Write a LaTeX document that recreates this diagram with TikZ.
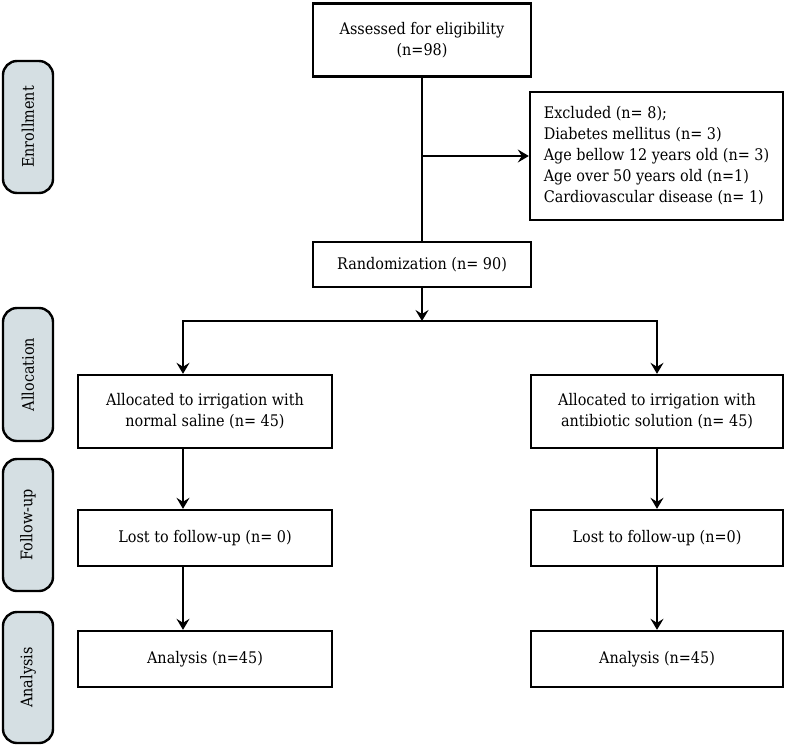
\documentclass[tikz,border=0pt]{standalone}
\usepackage{fontspec}
\setmainfont{DejaVu Serif Condensed}
\usepackage{tikz}
\usetikzlibrary{positioning,arrows.meta,shapes.geometric,shapes.misc,calc}
\definecolor{stagefill}{HTML}{D5DFE3}

\begin{document}
\begin{tikzpicture}[
    x=1pt, y=-1pt,
    font=\fontsize{16}{21}\selectfont,
    box/.style={rectangle, draw, line width=2.4pt, text centered, inner sep=4pt},
    stage/.style={
        rectangle, rounded corners=14pt,% Rounded side label
        draw, line width=2.4pt, fill=stagefill,
        rotate=90, minimum height=50pt, text centered
    },
    arrow/.style={line width=1.9pt, -{Stealth[length=11pt, width=13pt, inset=4pt]}},
    link/.style={line width=1.9pt}
]
    \useasboundingbox (0,0) rectangle (785,745);

    % Nodes
    \node[box, minimum width=218pt, minimum height=73pt, align=center] (assess) at (422,40) {Assessed for eligibility\\(n=98)};
    \node[box, minimum width=253pt, minimum height=128pt, align=left] (excl) at (656.5,156) {Excluded (n= 8);\\Diabetes mellitus (n= 3)\\Age bellow 12 years old (n= 3)\\Age over 50 years old (n=1)\\Cardiovascular disease (n= 1)};
    \node[box, minimum width=218pt, minimum height=45pt] (rand) at (422,264.5) {Randomization (n= 90)};

    \node[box, minimum width=254pt, minimum height=73pt, align=center] (allocL) at (205,411.5) {Allocated to irrigation with\\normal saline (n= 45)};
    \node[box, minimum width=252pt, minimum height=73pt, align=center] (allocR) at (657,411.5) {Allocated to irrigation with\\antibiotic solution (n= 45)};
    \node[box, minimum width=254pt, minimum height=56pt] (lostL) at (205,538) {Lost to follow-up (n= 0)};
    \node[box, minimum width=252pt, minimum height=56pt] (lostR) at (657,538) {Lost to follow-up (n=0)};
    \node[box, minimum width=254pt, minimum height=56pt] (anaL) at (205,659) {Analysis (n=45)};
    \node[box, minimum width=252pt, minimum height=56pt] (anaR) at (657,659) {Analysis (n=45)};

    % Side labels
    \node[stage, minimum width=132pt] (enrol) at (28,127) {Enrollment};
    \node[stage, minimum width=133pt] (alloc) at (28,374.5) {Allocation};
    \node[stage, minimum width=132pt] (follow) at (28,525) {Follow-up};
    \node[stage, minimum width=131pt] (analysis) at (28,677.5) {Analysis};

    % Connections
    \coordinate (split) at (422,321);
    \coordinate (lcol) at (183,0);
    \draw[link] (assess) -- (rand);
    \draw[arrow] (assess.south |- excl.west) -- (excl.west);
    \draw[arrow] (rand) -- (split);
    \draw[arrow] (split) -| (lcol |- allocL.north);
    \draw[arrow] (split) -| (allocR.north);
    \draw[arrow] (lcol |- allocL.south) -- (lcol |- lostL.north);
    \draw[arrow] (lcol |- lostL.south) -- (lcol |- anaL.north);
    \draw[arrow] (allocR) -- (lostR);
    \draw[arrow] (lostR) -- (anaR);
\end{tikzpicture}
\end{document}
